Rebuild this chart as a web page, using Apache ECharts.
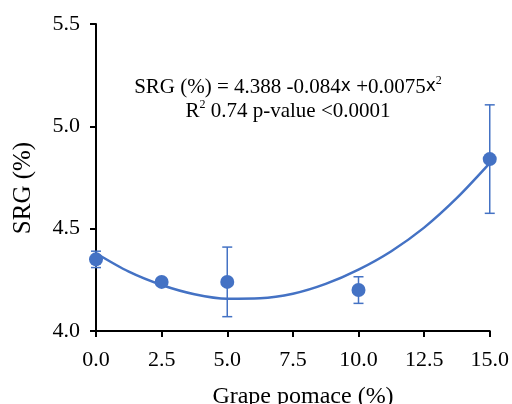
<!DOCTYPE html>
<html lang="en">
<head>
    <meta charset="UTF-8">
    <title>SRG</title>
    <script src="https://cdn.jsdelivr.net/npm/echarts@6/dist/echarts.min.js"></script>
</head>
<body style="margin:0;background:#fff">
<div id="chart" style="width:512px;height:404px"></div>
<script>
    // measured points (grape pomace %, SRG %, error)
    var pomace = [0, 2.5, 5, 10, 15];
    var srg = [4.35, 4.24, 4.24, 4.20, 4.84];
    var errs = [0.04, 0.01, 0.17, 0.065, 0.265];

    // fitted curve
    var fitX = [0, 1.25, 2.5, 3.75, 5, 6.25, 7.5, 8.75, 10, 11.25, 12.5, 13.75, 15];
    var fitY = [4.38, 4.29, 4.225, 4.18, 4.158, 4.16, 4.182, 4.23, 4.30, 4.39, 4.505, 4.65, 4.82];

    var blue = '#4472C4';
    var serif = '"Liberation Serif", "Times New Roman", serif';

    var _chart = echarts.init(document.getElementById('chart'));

    var option = {
        animation: false,
        grid: {left: 96, right: 21, top: 24, bottom: 73},
        xAxis: {
            type: 'value', min: 0, max: 15, interval: 2.5,
            axisLine: {onZero: false, lineStyle: {color: '#000', width: 2}},
            axisTick: {length: 6, lineStyle: {color: '#000', width: 2}},
            axisLabel: {color: '#000', fontSize: 22, fontFamily: serif, margin: 18,
                formatter: function (v) { return v.toFixed(1); }},
            splitLine: {show: false}
        },
        yAxis: {
            type: 'value', min: 4, max: 5.5, interval: 0.5,
            axisLine: {show: true, lineStyle: {color: '#000', width: 2}},
            axisTick: {show: true, length: 6, lineStyle: {color: '#000', width: 2}},
            axisLabel: {color: '#000', fontSize: 22, fontFamily: serif, margin: 16,
                formatter: function (v) { return v.toFixed(1); }},
            splitLine: {show: false}
        },
        graphic: [
            {
                type: 'text', x: 288, y: 75,
                style: {
                    text: '{a|SRG (%) = 4.388 -0.084}{b|x}{a| +0.0075}{b|x}{s|2}\n{a|R}{s|2}{a| 0.74 p-value <0.0001}',
                    align: 'center',
                    rich: {
                        a: {fontSize: 21, fontFamily: serif, color: '#000', lineHeight: 24},
                        b: {fontSize: 17, fontFamily: '"DejaVu Sans", sans-serif', color: '#000', lineHeight: 24},
                        s: {fontSize: 12, fontFamily: serif, color: '#000', verticalAlign: 'top', lineHeight: 24, padding: [0, 0, 8, 0]}
                    }
                }
            },
            {
                type: 'text', x: 303, y: 397,
                style: {text: 'Grape pomace (%)', align: 'center', verticalAlign: 'middle',
                    fontSize: 24, fontFamily: serif, fill: '#000'}
            },
            {
                type: 'text', x: 23, y: 188, rotation: Math.PI / 2,
                style: {text: 'SRG (%)', align: 'center', verticalAlign: 'middle',
                    fontSize: 25, fontFamily: serif, fill: '#000'}
            }
        ],
        series: [
            {
                type: 'line', smooth: 0.3, symbol: 'none',
                lineStyle: {color: blue, width: 2.5},
                data: fitX.map(function (x, i) { return [x, fitY[i]]; }),
                z: 2
            },
            {
                type: 'custom',
                renderItem: function (params, api) {
                    var x = api.value(0), y = api.value(1), e = api.value(2);
                    var top = api.coord([x, y + e]);
                    var bot = api.coord([x, y - e]);
                    var cap = 5;
                    var st = {stroke: blue, lineWidth: 1.5};
                    return {
                        type: 'group',
                        children: [
                            {type: 'line', shape: {x1: top[0], y1: top[1], x2: bot[0], y2: bot[1]}, style: st},
                            {type: 'line', shape: {x1: top[0] - cap, y1: top[1], x2: top[0] + cap, y2: top[1]}, style: st},
                            {type: 'line', shape: {x1: bot[0] - cap, y1: bot[1], x2: bot[0] + cap, y2: bot[1]}, style: st}
                        ]
                    };
                },
                data: pomace.map(function (x, i) { return [x, srg[i], errs[i]]; }),
                z: 3
            },
            {
                type: 'scatter', symbol: 'circle', symbolSize: 14,
                itemStyle: {color: blue, opacity: 1},
                data: pomace.map(function (x, i) { return [x, srg[i]]; }),
                z: 4
            }
        ]
    };
    _chart.setOption(option, true);
</script>
</body>
</html>
